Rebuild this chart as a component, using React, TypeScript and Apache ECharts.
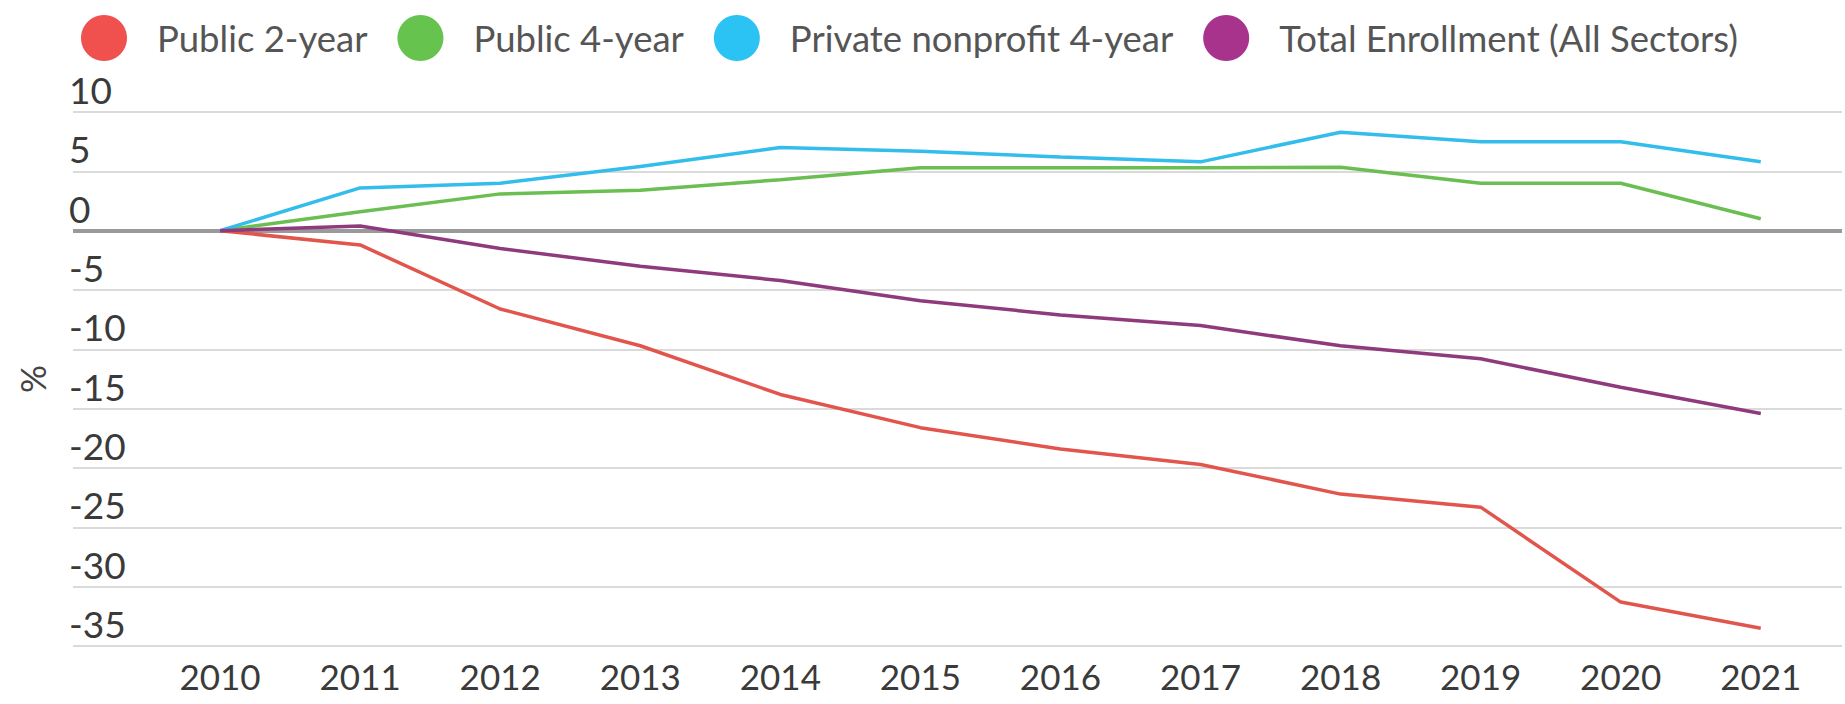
import React, { useEffect, useRef } from "react";
import * as echarts from "echarts";

const years = [2010, 2011, 2012, 2013, 2014, 2015, 2016, 2017, 2018, 2019, 2020, 2021];
const seriesNames = [
  "Public 2-year",
  "Public 4-year",
  "Private nonprofit 4-year",
  "Total Enrollment (All Sectors)",
];
const public2 = [0, -1.2, -6.6, -9.7, -13.8, -16.6, -18.4, -19.7, -22.2, -23.3, -31.3, -33.5];
const public4 = [0, 1.6, 3.1, 3.4, 4.3, 5.3, 5.3, 5.3, 5.35, 4.0, 4.0, 1.0];
const privateNp4 = [0, 3.6, 4.0, 5.4, 7.0, 6.7, 6.2, 5.8, 8.3, 7.5, 7.5, 5.8];
const total = [0, 0.4, -1.5, -3.0, -4.2, -5.9, -7.1, -8.0, -9.7, -10.8, -13.2, -15.4];
const yTicks = { min: -35, max: 10, interval: 5 };

const legendColors = ["#F0504E", "#66C44E", "#2BC3F3", "#A8338C"];
const lineColors = ["#E2554C", "#6BBE52", "#33BDEB", "#8E3A7C"];
const allValues = [public2, public4, privateNp4, total];

export default function App() {
  const ref = useRef<HTMLDivElement>(null);
  useEffect(() => {
    document.body.style.margin = "0";
    const chart = echarts.init(ref.current!, null, { renderer: "svg" });
    const font = "Lato, 'Noto Sans', sans-serif";
    const series: any[] = seriesNames.map((name, i) => ({
      name,
      type: "line",
      data: years.map((y, j) => [y, allValues[i][j]]),
      showSymbol: false,
      symbol: "circle",
      itemStyle: { color: legendColors[i] },
      lineStyle: { color: lineColors[i], width: 3.5 },
      z: 3,
    }));
    series[0].markLine = {
      silent: true,
      symbol: "none",
      label: { show: false },
      lineStyle: { color: "#9a9a9a", width: 4, type: "solid" },
      data: [{ yAxis: 0 }],
      z: 1,
    };
    chart.setOption({
      animation: false,
      textStyle: { fontFamily: font },
      legend: {
        left: 76,
        top: 10,
        icon: "circle",
        itemWidth: 46,
        itemHeight: 46,
        itemGap: 30,
        textStyle: {
          fontFamily: font,
          fontSize: 36.5,
          color: "#555",
          padding: [0, 0, 0, 25],
        },
        data: seriesNames,
      },
      grid: { left: 73, right: 3, top: 112, bottom: 58 },
      xAxis: {
        type: "value",
        min: years[0] - 1.05,
        max: years[years.length - 1] + 0.58,
        axisLine: { show: false },
        axisTick: { show: false },
        splitLine: { show: false },
        axisLabel: {
          customValues: years,
          fontFamily: font,
          fontSize: 35,
          color: "#3a3a3a",
          margin: 12,
          formatter: (v: number) => String(Math.round(v)),
        },
      },
      yAxis: {
        type: "value",
        min: yTicks.min,
        max: yTicks.max,
        interval: yTicks.interval,
        name: "%",
        nameLocation: "middle",
        nameRotate: 90,
        nameGap: 24,
        nameTextStyle: { fontFamily: font, fontSize: 35, color: "#444" },
        axisLine: { show: false },
        axisTick: { show: false },
        axisLabel: {
          inside: true,
          margin: -4,
          align: "left",
          verticalAlign: "bottom",
          padding: [0, 0, 4, 0],
          fontFamily: font,
          fontSize: 37,
          color: "#3a3a3a",
        },
        splitLine: { lineStyle: { color: "#dadada", width: 2 } },
      },
      series,
    });
    return () => chart.dispose();
  }, []);
  return <div ref={ref} style={{ width: 1845, height: 704 }} />;
}
